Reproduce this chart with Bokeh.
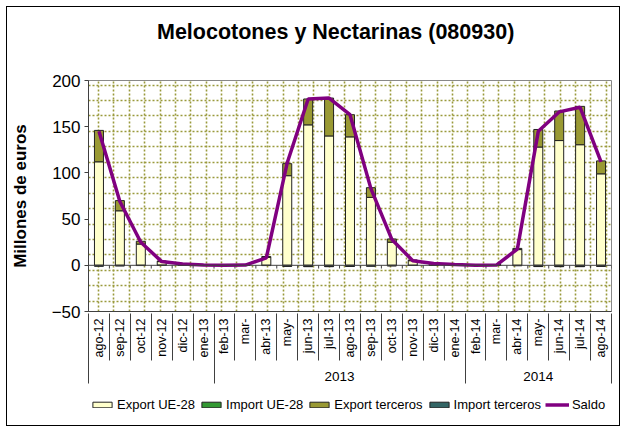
import numpy as np
from bokeh.plotting import figure
from bokeh.layouts import column
from bokeh.models import (Range1d, LinearAxis, FixedTicker, ColumnDataSource,
                          Legend, LegendItem, Span, Grid, Div)
from bokeh.embed import file_html
from bokeh.resources import INLINE

# ---------------- data ----------------
title_text = "Melocotones y Nectarinas (080930)"
months = ["ago-12", "sep-12", "oct-12", "nov-12", "dic-12", "ene-13",
          "feb-13", "mar-", "abr-13", "may-", "jun-13", "jul-13", "ago-13",
          "sep-13", "oct-13", "nov-13", "dic-13", "ene-14",
          "feb-14", "mar-", "abr-14", "may-", "jun-14", "jul-14", "ago-14"]
years = ["", "2013", "2014"]
year_sizes = [6, 12, 7]

export_ue = [112, 59, 23, 4, 1.5, 0.5, 0.2, 0.3, 8.5, 97, 152, 140, 139,
             73.5, 25, 5, 2, 0.8, 0.2, 0.5, 17, 128, 135, 130.5, 99]
export_terc = [34, 11, 3, 0.7, 0.5, 0.1, 0, 0, 1, 13, 28, 41, 24,
               10.5, 3.5, 0.8, 0.3, 0.1, 0, 0, 1.3, 19, 32, 41.5, 14]
import_ue = [-0.6, -0.4, -0.2, -0.1, -0.1, 0, 0, -0.1, -0.2, -0.8, -1.0, -1.0, -0.8,
             -0.6, -0.4, -0.2, -0.1, 0, 0, -0.1, -0.3, -1.0, -1.0, -1.0, -0.8]
import_terc = [-0.3, -0.2, -0.1, 0, 0, 0, 0, 0, -0.1, -0.3, -0.5, -0.5, -0.4,
               -0.3, -0.2, 0, 0, 0, 0, 0, -0.1, -0.4, -0.5, -0.5, -0.3]
saldo = [145, 69, 25, 4, 1.5, 0.3, 0, 0.2, 8, 111, 180, 181, 163,
         83, 28, 5, 2, 0.8, 0, 0.3, 17.5, 145, 166, 171, 112]
y_ticks = [-50, 0, 50, 100, 150, 200]

# ---------------- setup ----------------
FONT = "Liberation Sans"
n = len(months)
centers = [i + 0.5 for i in range(n)]
bounds = list(range(n + 1))
group_bounds = [0] + [int(v) for v in np.cumsum(year_sizes)]
group_centers = [(group_bounds[i] + group_bounds[i + 1]) / 2 for i in range(len(years))]

src = ColumnDataSource(dict(x=centers, export_ue=export_ue, export_terc=export_terc,
                            import_ue=import_ue, import_terc=import_terc, saldo=saldo))

# title block
title_div = Div(
    text=('<div style="position:relative; top:13px; left:150px; white-space:nowrap; '
          'font-family:\'Liberation Sans\'; font-size:21.5px; font-weight:bold; '
          'color:black; line-height:25px;">' + title_text + '</div>'),
    width=612, height=39, margin=0)

p = figure(width=612, height=341, x_range=Range1d(0, n), y_range=Range1d(-50, 200),
           output_backend="svg", toolbar_location=None, x_axis_type=None,
           min_border_left=79, min_border_right=8, min_border_top=34, min_border_bottom=76)
p.background_fill_color = "white"
p.border_fill_color = "white"
p.outline_line_color = "#888888"
p.title.text = ""
p.title.standoff = 0
p.title.text_font_size = "0px"

# pattern grid (dotted olive)
frame_w, frame_h = 525.0, 231.0
vx = [v / frame_w * n for v in np.arange(10, frame_w, 15.45)]
hy = [200 - v / frame_h * 250 for v in np.arange(4.5, frame_h, 15.45)]
grid_style = dict(grid_line_color="#9a9a3c", grid_line_width=1.6, grid_line_dash="2 2")
p.add_layout(Grid(dimension=0, ticker=FixedTicker(ticks=vx), **grid_style))
p.ygrid[0].ticker = FixedTicker(ticks=hy)
for k, v in grid_style.items():
    setattr(p.ygrid[0], k, v)

# y axis
ya = p.yaxis[0]
ya.ticker = FixedTicker(ticks=y_ticks)
ya.axis_line_color = "#404040"
ya.major_tick_line_color = "#404040"
ya.major_tick_out = 4
ya.major_tick_in = 0
ya.major_label_text_font = FONT
ya.major_label_text_font_size = "17px"
ya.major_label_text_color = "black"
ya.major_label_standoff = 4
ya.axis_label = "Millones de euros"
ya.axis_label_text_font = FONT
ya.axis_label_text_font_size = "17px"
ya.axis_label_text_font_style = "bold"
ya.axis_label_text_color = "black"
ya.axis_label_standoff = 19

# bars
w = 0.43
bar_colors = ["#FFFFCC", "#999933"]
neg_colors = ["#339933", "#336666"]
pos = p.vbar_stack(["export_ue", "export_terc"], x="x", width=w, source=src,
                   fill_color=bar_colors, line_color="#222222", line_width=1)
neg = p.vbar_stack(["import_ue", "import_terc"], x="x", width=w, source=src,
                   fill_color=neg_colors, line_color="#222222", line_width=1)

# zero line with small ticks
p.add_layout(Span(location=0, dimension="width", line_color="#404040", line_width=1))
p.segment(x0=bounds, y0=[0] * len(bounds), x1=bounds, y1=[-3.5] * len(bounds),
          line_color="#404040", line_width=1)

# saldo line
ln = p.line("x", "saldo", source=src, line_color="#800080", line_width=3.5)

# month labels axis (no ticks)
ax1 = LinearAxis(ticker=FixedTicker(ticks=centers),
                 major_label_overrides={float(c): m for c, m in zip(centers, months)})
ax1.major_tick_out = 0
ax1.major_tick_in = 0
ax1.axis_line_color = "#404040"
ax1.major_label_orientation = np.pi / 2
ax1.major_label_standoff = 7
ax1.major_label_text_font = FONT
ax1.major_label_text_font_size = "12.5px"
ax1.major_label_text_color = "black"
p.add_layout(ax1, "below")

# year labels axis; its inward minor ticks draw the month separators
ax2 = LinearAxis(ticker=FixedTicker(ticks=group_centers, minor_ticks=bounds),
                 major_label_overrides={float(c): y for c, y in zip(group_centers, years)})
ax2.axis_line_color = None
ax2.major_tick_out = 0
ax2.major_tick_in = 0
ax2.minor_tick_out = 0
ax2.minor_tick_in = 47
ax2.minor_tick_line_color = "#404040"
ax2.major_label_standoff = 11
ax2.major_label_text_font = FONT
ax2.major_label_text_font_size = "13.5px"
ax2.major_label_text_color = "black"
p.add_layout(ax2, "below")

# year separators (lower part)
ax3 = LinearAxis(ticker=FixedTicker(ticks=group_bounds))
ax3.axis_line_color = None
ax3.major_tick_out = 0
ax3.major_tick_in = 28
ax3.major_tick_line_color = "#404040"
ax3.major_label_standoff = 0
ax3.major_label_text_font_size = "0px"
ax3.major_label_text_color = None
p.add_layout(ax3, "below")

# legend strip: same series, renderers kept out of this strip's view
p2 = figure(width=612, height=38, x_range=Range1d(0, n), y_range=Range1d(1000, 1001),
            output_backend="svg", toolbar_location=None, x_axis_type=None, y_axis_type=None,
            min_border_left=0, min_border_right=0, min_border_top=0, min_border_bottom=0)
p2.outline_line_color = None
p2.background_fill_color = "white"
p2.border_fill_color = "white"
pos2 = p2.vbar_stack(["export_ue", "export_terc"], x="x", width=w, source=src,
                     fill_color=bar_colors, line_color="#222222", line_width=1)
neg2 = p2.vbar_stack(["import_ue", "import_terc"], x="x", width=w, source=src,
                     fill_color=neg_colors, line_color="#222222", line_width=1)
ln2 = p2.line("x", "saldo", source=src, line_color="#800080", line_width=3.5)

legend = Legend(items=[
    LegendItem(label="Export UE-28", renderers=[pos2[0]]),
    LegendItem(label="Import UE-28", renderers=[neg2[0]]),
    LegendItem(label="Export terceros", renderers=[pos2[1]]),
    LegendItem(label="Import terceros", renderers=[neg2[1]]),
    LegendItem(label="Saldo", renderers=[ln2]),
], orientation="horizontal", location=(2, 13))
legend.glyph_width = 24
legend.glyph_height = 7
legend.label_standoff = 3
legend.spacing = 4
legend.padding = 0
legend.margin = 0
legend.border_line_color = None
legend.background_fill_alpha = 0
legend.label_text_font = FONT
legend.label_text_font_size = "13px"
legend.label_text_color = "black"
p2.add_layout(legend, "center")

layout = column(title_div, p, p2, spacing=0,
                styles={"border": "1px solid black", "margin": "6px 0px 0px 6px"})

open("out.html", "w").write(file_html(layout, INLINE))
